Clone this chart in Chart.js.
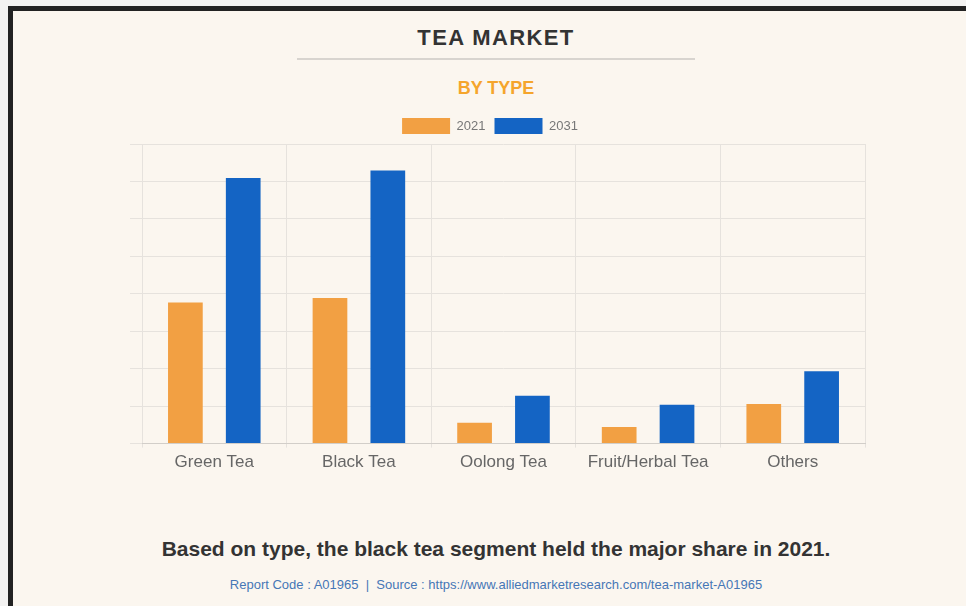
<!DOCTYPE html>
<html>
<head>
<meta charset="utf-8">
<script src="https://cdn.jsdelivr.net/npm/chart.js@4.4.1/dist/chart.umd.min.js"></script>
<style>
  html, body { margin: 0; padding: 0; width: 966px; height: 606px; overflow: hidden; background: #f3f2f1; }
  #frame { position: absolute; left: 8px; top: 6px; width: 958px; height: 600px; background: #222; }
  #panel { position: absolute; left: 13px; top: 11px; width: 953px; height: 595px; background: #fbf6ef; }
  .txt { position: absolute; left: 26px; width: 940px; text-align: center; font-family: "Liberation Sans", Arial, sans-serif; white-space: nowrap; }
  #title { top: 25px; font-size: 22px; font-weight: bold; color: #333; letter-spacing: 1.4px; }
  #rule { position: absolute; left: 297px; top: 58px; width: 398px; height: 2px; background: #d8d4cf; }
  #sub { top: 78px; font-size: 18px; font-weight: bold; color: #f5a52c; }
  #caption { top: 537px; font-size: 21px; font-weight: bold; color: #333; }
  #source { top: 577px; font-size: 13px; color: #4677b6; }
  #wrap { position: absolute; left: 0; top: 100px; width: 966px; height: 400px; }
</style>
</head>
<body>
<div id="frame"></div>
<div id="panel"></div>
<div class="txt" id="title">TEA MARKET</div>
<div id="rule"></div>
<div class="txt" id="sub">BY TYPE</div>
<div id="wrap"><canvas id="c" width="966" height="400"></canvas></div>
<div class="txt" id="caption">Based on type, the black tea segment held the major share in 2021.</div>
<div class="txt" id="source">Report Code : A01965 &nbsp;|&nbsp; Source : https://www.alliedmarketresearch.com/tea-market-A01965</div>
<script>
const categories = ["Green Tea", "Black Tea", "Oolong Tea", "Fruit/Herbal Tea", "Others"];
const values2021 = [3.77, 3.89, 0.56, 0.44, 1.06];
const values2031 = [7.09, 7.29, 1.28, 1.04, 1.93];
const seriesLabels = ["2021", "2031"];

new Chart(document.getElementById("c"), {
  type: "bar",
  data: {
    labels: categories,
    datasets: [
      { label: seriesLabels[0], data: values2021, backgroundColor: "#f2a043", borderWidth: 0 },
      { label: seriesLabels[1], data: values2031, backgroundColor: "#1464c4", borderWidth: 0 }
    ]
  },
  options: {
    responsive: false,
    animation: false,
    devicePixelRatio: 1,
    layout: { padding: { left: 115, right: 101, top: 9, bottom: 22 } },
    datasets: { bar: { categoryPercentage: 0.8, barPercentage: 0.6 } },
    plugins: {
      legend: {
        display: true,
        position: "top",
        labels: {
          boxWidth: 48, boxHeight: 16, padding: 9,
          color: "#777",
          font: { family: "'Liberation Sans', Arial, sans-serif", size: 13 }
        }
      },
      tooltip: { enabled: false }
    },
    scales: {
      x: {
        grid: { color: "#e6e2dd", tickLength: 4, offset: true },
        border: { color: "#d2cec9" },
        ticks: { color: "#666", padding: 5, font: { family: "'Liberation Sans', Arial, sans-serif", size: 17 } }
      },
      y: {
        min: 0, max: 8,
        grid: { color: "#e6e2dd", tickLength: 12 },
        border: { display: false },
        ticks: { display: false, stepSize: 1 },
        afterFit: function (scale) { scale.width = 27; }
      }
    }
  }
});
</script>
</body>
</html>
